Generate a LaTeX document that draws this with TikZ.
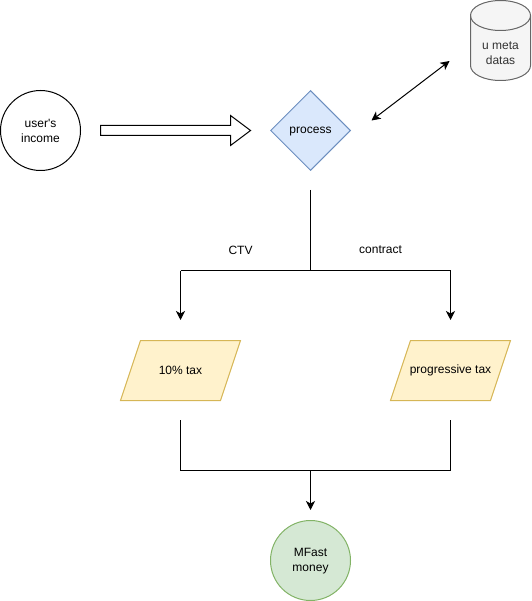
\documentclass[tikz,border=0pt]{standalone}
\usepackage{fontspec}
\setmainfont{Liberation Sans}
\usetikzlibrary{arrows.meta,shapes.geometric}
\definecolor{bluef}{HTML}{DAE8FC}
\definecolor{blued}{HTML}{6C8EBF}
\definecolor{yelf}{HTML}{FFF2CC}
\definecolor{yeld}{HTML}{D6B656}
\definecolor{greenf}{HTML}{D5E8D4}
\definecolor{greend}{HTML}{82B366}
\definecolor{grayf}{HTML}{F5F5F5}
\definecolor{grayd}{HTML}{666666}
\definecolor{graytext}{HTML}{333333}
\tikzset{
  lbl/.style={font=\fontsize{12}{15}\selectfont,align=center,inner sep=0pt},
  round/.style={circle,draw,line width=1pt,minimum size=80pt,inner sep=0pt,lbl},
  para/.style={draw=yeld,fill=yelf,line width=1pt,line join=miter},
  conn/.style={draw=black,line width=1pt},
  tip/.style={-{Stealth[length=9pt,width=9pt,inset=2.5pt]}},
  tips/.style={{Stealth[length=9pt,width=9pt,inset=2.5pt]}-{Stealth[length=9pt,width=9pt,inset=2.5pt]}},
}
\begin{document}
\begin{tikzpicture}[x=1pt,y=-1pt]
\useasboundingbox (0,0) rectangle (531,601);
% nodes
\node[round] (income) at (40.5,130.5) {\raisebox{0pt}[9pt][3pt]{}user\textquotesingle s\\income};
\node[diamond,draw=blued,fill=bluef,line width=1pt,minimum width=80pt,minimum height=80pt,inner sep=0pt,lbl,text height=8.5pt,text depth=1.5pt] (process) at (310.5,130.5) {process};
\draw[grayd,fill=grayf,line width=1pt] (470.5,15.5)
  .. controls (470.5,7) and (484,0.5) .. (500.5,0.5)
  .. controls (517,0.5) and (530.5,7) .. (530.5,15.5)
  -- (530.5,65.5)
  .. controls (530.5,74) and (517,80.5) .. (500.5,80.5)
  .. controls (484,80.5) and (470.5,74) .. (470.5,65.5) -- cycle;
\draw[grayd,line width=1pt] (470.5,15.5)
  .. controls (470.5,24) and (484,30.5) .. (500.5,30.5)
  .. controls (517,30.5) and (530.5,24) .. (530.5,15.5);
\node[lbl,text=graytext] (meta) at (500.5,53.5) {u meta\\datas};
\draw[para] (140.5,340.5) -- (240.5,340.5) -- (220.5,400.5) -- (120.5,400.5) -- cycle;
\node[lbl] (flat) at (180.5,370) {10\% tax};
\draw[para] (410.5,340.5) -- (510.5,340.5) -- (490.5,400.5) -- (390.5,400.5) -- cycle;
\node[lbl] (prog) at (450.5,370) {progressive tax};
\node[round,draw=greend,fill=greenf] (money) at (310.5,560.5) {\raisebox{0pt}[9pt][3pt]{}MFast\\money};
% block arrow
\draw[black,fill=white,line width=1pt] (100.5,125.5) -- (230.5,125.5) -- (230.5,115.5) -- (250.5,130.5) -- (230.5,145.5) -- (230.5,135.5) -- (100.5,135.5) -- cycle;
% connector end points
\coordinate (a) at (371.5,120.5);
\coordinate (b) at (449.5,61);
\coordinate (p) at (310.5,190);
\coordinate (j) at (310.5,270.5);
\coordinate (l) at (180.5,270.5);
\coordinate (r) at (450.5,270.5);
\coordinate (le) at (180.5,320);
\coordinate (re) at (450.5,320);
\coordinate (fs) at (180.5,420);
\coordinate (fb) at (180.5,470.5);
\coordinate (ps) at (450.5,420);
\coordinate (pb) at (450.5,470.5);
\coordinate (mj) at (310.5,470.5);
\coordinate (me) at (310.5,510);
% connectors
\draw[conn,tips] (a) -- (b);
\draw[conn] (p) -- (j);
\draw[conn,tip] (l) -- (le);
\draw[conn,tip] (r) -- (re);
\draw[conn] (l) -- (r);
\draw[conn] (fs) -- (fb) -- (pb) -- (ps);
\draw[conn,tip] (mj) -- (me);
% labels
\node[lbl] (ctv) at (240.5,250) {CTV};
\node[lbl] (contract) at (380.5,250) {contract};
\end{tikzpicture}
\end{document}
